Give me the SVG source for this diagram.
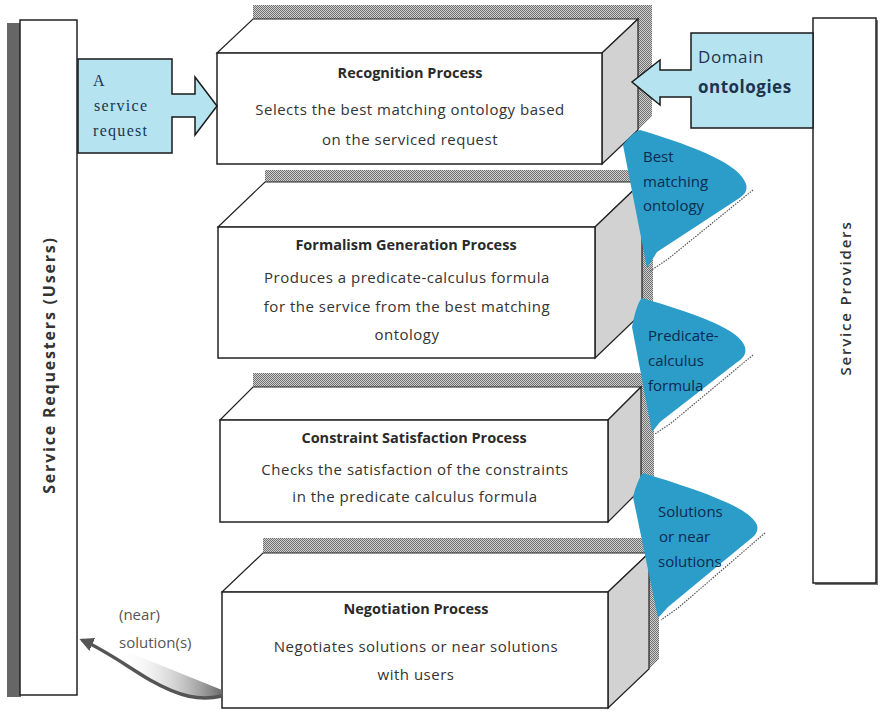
<svg xmlns="http://www.w3.org/2000/svg" width="880" height="711" viewBox="0 0 880 711">
<defs>
<pattern id="hatch" width="2" height="2" patternUnits="userSpaceOnUse">
<rect width="2" height="2" fill="#d0d0d0"/>
<rect width="1" height="1" fill="#707070"/>
<rect x="1" y="1" width="1" height="1" fill="#707070"/>
</pattern>
<linearGradient id="grad" x1="0" y1="0" x2="1" y2="0">
<stop offset="0" stop-color="#ffffff" stop-opacity="0"/>
<stop offset="1" stop-color="#6a6a6a"/>
</linearGradient>
<marker id="ah" viewBox="0 0 10 10" refX="8" refY="5" markerWidth="4" markerHeight="4" orient="auto">
<path d="M0,0 L10,5 L0,10 Z" fill="#555"/>
</marker>
<style>
.front{fill:#fff;stroke:#222;stroke-width:1.5}
.top{fill:#fff;stroke:#222;stroke-width:1.2}
.side{fill:#d2d2d2;stroke:#222;stroke-width:1.2}
.shadow{fill:url(#hatch)}
.title{font-family:"Open Sans","Noto Sans",sans-serif;font-weight:bold;font-size:14.5px;fill:#2a2a2a;text-anchor:middle}
.body{font-family:"Open Sans","Noto Sans",sans-serif;font-size:15px;letter-spacing:0.5px;fill:#333;text-anchor:middle}
.blue{fill:#2b9dc8}
.btext{font-family:"Open Sans","Noto Sans",sans-serif;font-size:15px;fill:#0d2a50}
.wavy{fill:none;stroke:#555;stroke-width:1.2;stroke-dasharray:1.5 1.2}
.callout{fill:#b5e3f0;stroke:#1a1a1a;stroke-width:1.5}
.panel{fill:#fff;stroke:#222;stroke-width:1.5}
</style>
</defs>

<g id="service-requesters">
<rect x="7" y="23" width="14" height="674" fill="#666"/>
<rect class="panel" x="20" y="20" width="57" height="675"/>
<text transform="translate(55,365) rotate(-90)" font-family="'Open Sans','Noto Sans',sans-serif" font-weight="bold" font-size="16" letter-spacing="1.8" fill="#333" text-anchor="middle">Service Requesters (Users)</text>
</g>

<g id="service-providers">
<rect x="815" y="20" width="63" height="565" fill="#777"/>
<rect class="panel" x="813" y="18" width="63" height="565"/>
<text transform="translate(851,298) rotate(-90)" font-family="'Open Sans','Noto Sans',sans-serif" font-weight="600" font-size="15" letter-spacing="1.8" fill="#333" text-anchor="middle">Service Providers</text>
</g>

<g id="recognition">
<polygon class="shadow" points="253,5 652,5 652,116 638,130 638,19 253,19"/>
<polygon class="top" points="217,53 253,19 638,19 602,53"/>
<polygon class="side" points="602,53 638,19 638,130 602,164"/>
<rect class="front" x="217" y="53" width="385" height="111"/>
<text class="title" x="410" y="78">Recognition Process</text>
<text class="body" x="410" y="115">Selects the best matching ontology based</text>
<text class="body" x="410" y="145">on the serviced request</text>
</g>

<g id="formalism">
<polygon class="shadow" points="265,170 653,170 653,302 642,313 642,182 265,182"/>
<polygon class="top" points="218,227 265,182 642,182 595,227"/>
<polygon class="side" points="595,227 642,182 642,313 595,358"/>
<rect class="front" x="218" y="227" width="377" height="131"/>
<text class="title" x="406" y="250">Formalism Generation Process</text>
<text class="body" x="407" y="283">Produces a predicate-calculus formula</text>
<text class="body" x="407" y="312">for the service from the best matching</text>
<text class="body" x="407" y="340">ontology</text>
</g>

<g id="constraint">
<polygon class="shadow" points="253,373 654,373 654,476 641,489 641,387 253,387"/>
<polygon class="top" points="220,420 253,387 641,387 608,420"/>
<polygon class="side" points="608,420 641,387 641,489 608,522"/>
<rect class="front" x="220" y="420" width="388" height="102"/>
<text class="title" x="414" y="443">Constraint Satisfaction Process</text>
<text class="body" x="415" y="475">Checks the satisfaction of the constraints</text>
<text class="body" x="415" y="502">in the predicate calculus formula</text>
</g>

<g id="negotiation">
<polygon class="shadow" points="263,538 659,538 659,659 649,669 649,553 263,553"/>
<polygon class="top" points="222,592 263,553 649,553 608,592"/>
<polygon class="side" points="608,592 649,553 649,669 608,708"/>
<rect class="front" x="222" y="592" width="386" height="116"/>
<text class="title" x="416" y="614">Negotiation Process</text>
<text class="body" x="416" y="652">Negotiates solutions or near solutions</text>
<text class="body" x="416" y="680">with users</text>
</g>

<g id="service-request">
<polygon class="callout" points="78,59 172,59 172,94 195,94 195,77 217,106 195,135 195,117 172,117 172,153 78,153"/>
<g font-family="'Liberation Serif','DejaVu Serif',serif" font-size="16" letter-spacing="1.3" fill="#1d3350">
<text x="93" y="86">A</text>
<text x="94" y="111">service</text>
<text x="93" y="136">request</text>
</g>
</g>

<g id="domain-ontologies">
<polygon class="callout" points="813,33 691,33 691,70 660,70 660,60 632,82 660,105 660,97 691,97 691,128 813,128"/>
<text x="698" y="63" font-family="'Open Sans','Noto Sans',sans-serif" font-size="17" letter-spacing="0.6" fill="#1d3350">Domain</text>
<text x="698" y="93" font-family="'Open Sans','Noto Sans',sans-serif" font-size="17" font-weight="bold" letter-spacing="0.5" fill="#1d3350">ontologies</text>
</g>

<g id="connectors">
<g id="best-matching-ontology">
<path class="blue" d="M640,130 C700,148 740,165 746,184 C748,191 744,195 738,199 L657,252 L647,268 L623,145 C628,138 634,132 640,130 Z"/>
<path class="wavy" d="M753,190 L668,259 L650,271"/>
<text class="btext" x="643" y="162">Best</text>
<text class="btext" x="643" y="187">matching</text>
<text class="btext" x="643" y="211">ontology</text>
</g>
<g id="predicate-calculus-formula">
<path class="blue" d="M642,298 C700,315 740,330 745,347 C747,355 742,359 736,363 L660,422 L652,432 L632,327 C635,312 638,302 642,298 Z"/>
<path class="wavy" d="M753,355 L670,424 L655,434"/>
<text class="btext" x="648" y="341">Predicate-</text>
<text class="btext" x="648" y="366">calculus</text>
<text class="btext" x="648" y="391">formula</text>
</g>
<g id="solutions">
<path class="blue" d="M643,473 C705,492 750,508 757,525 C759,532 754,537 748,541 L668,607 L658,618 L633,497 C636,485 640,476 643,473 Z"/>
<path class="wavy" d="M765,533 L678,608 L661,620"/>
<text class="btext" x="658" y="517">Solutions</text>
<text class="btext" x="659" y="542">or near</text>
<text class="btext" x="658" y="567">solutions</text>
</g>
<g id="near-solutions">
<path d="M118,648 L222,690 L222,696 C200,701 180,697 150,680 C138,672 128,658 118,648 Z" fill="url(#grad)"/>
<path d="M222,696 C200,701 180,697 150,680 C125,665 105,650 82,640" fill="none" stroke="#555" stroke-width="3.5" marker-end="url(#ah)"/>
<text x="119" y="620" font-family="'Open Sans','Noto Sans',sans-serif" font-size="15" fill="#555">(near)</text>
<text x="119" y="648" font-family="'Open Sans','Noto Sans',sans-serif" font-size="15" fill="#555">solution(s)</text>
</g>
</g>
</svg>
